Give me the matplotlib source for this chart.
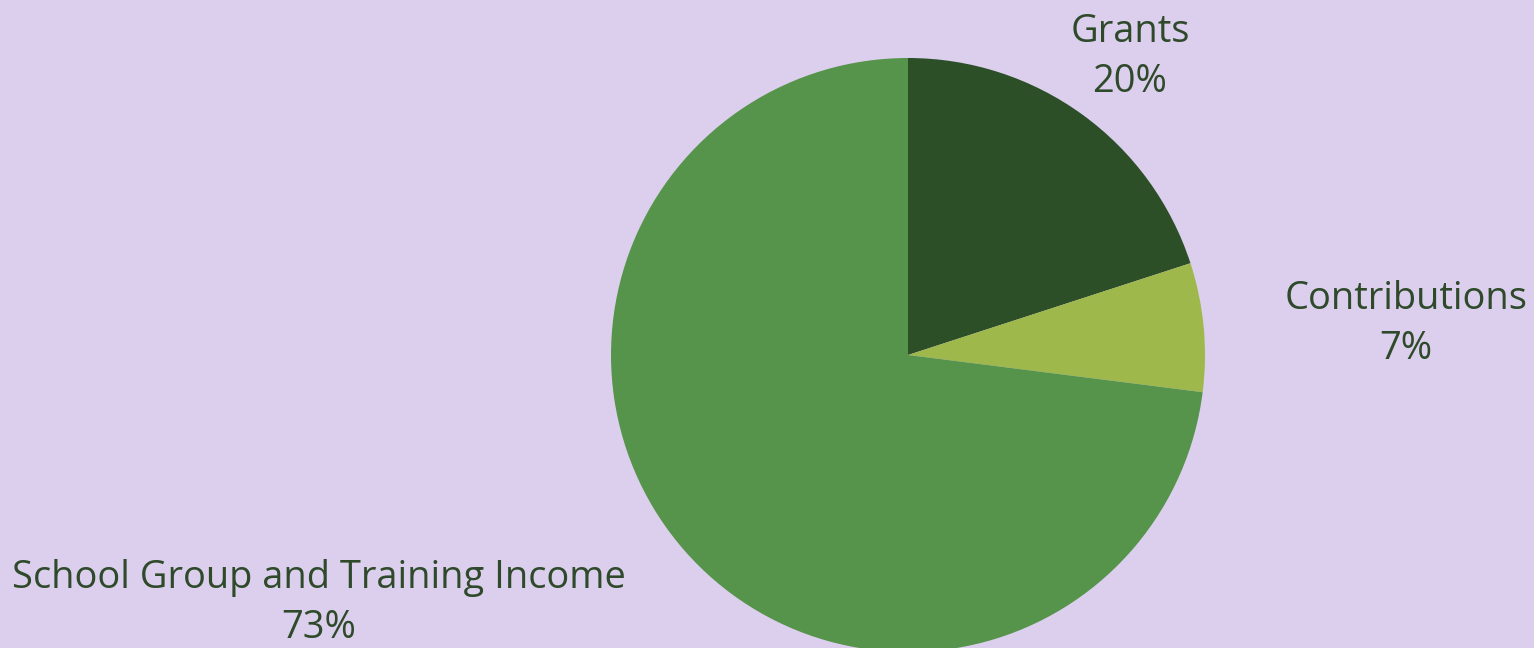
import matplotlib.pyplot as plt

# revenue split
labels = ["Grants", "Contributions", "School Group and Training Income"]
shares = [20, 7, 73]
colors = ["#2D4F27", "#9EB84B", "#55944A"]

bg = "#DCCFEE"
txt = "#2F4A2B"

fig = plt.figure(figsize=(15.34, 6.48), dpi=100, facecolor=bg)
ax = fig.add_axes([0, 0, 1, 1])
ax.set_facecolor(bg)

ax.pie(shares, colors=colors, startangle=90, counterclock=False,
       center=(908, 293), radius=297, frame=True)
ax.set_xlim(0, 1534)
ax.set_ylim(0, 648)
ax.set_aspect("equal")
ax.axis("off")

# label spots (pixel coords, y up)
label_pos = [(1130, 591), (1406, 324), (319, 45)]
for lab, s, (x, y) in zip(labels, shares, label_pos):
    ax.text(x, y, f"{lab}\n{s}%", ha="center", va="center", fontsize=27.4,
            family="Open Sans", color=txt, linespacing=1.42)

fig.savefig("out.png", dpi=100, facecolor=bg)
